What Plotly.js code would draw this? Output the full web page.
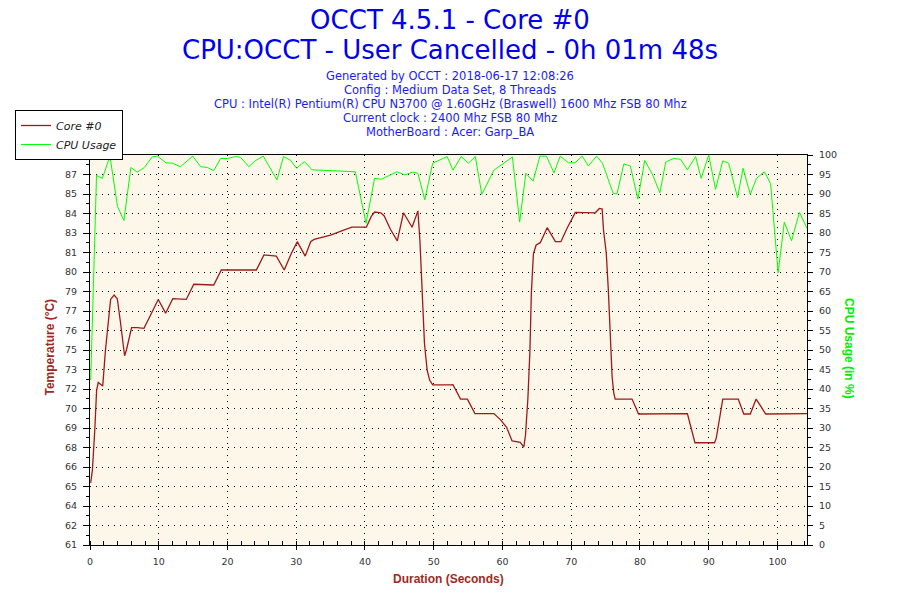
<!DOCTYPE html>
<html>
<head>
<meta charset="utf-8">
<script src="https://cdn.plot.ly/plotly-3.0.1.min.js"></script>
<style>html,body{margin:0;padding:0;background:#fff;}#chart{width:900px;height:600px;}</style>
</head>
<body>
<div id="chart"></div>
<script>
// ---- data ----
const titleLines = ["OCCT 4.5.1 - Core #0", "CPU:OCCT - User Cancelled - 0h 01m 48s"];
const infoLines = [
  "Generated by OCCT : 2018-06-17 12:08:26",
  "Config : Medium Data Set, 8 Threads",
  "CPU : Intel(R) Pentium(R) CPU N3700 @ 1.60GHz (Braswell) 1600 Mhz FSB 80 Mhz",
  "Current clock : 2400 Mhz FSB 80 Mhz",
  "MotherBoard : Acer: Garp_BA"
];
const seriesNames = ["Core #0", "CPU Usage"];

const tempTime = [0.1, 0.35, 0.7, 0.96, 1.2, 1.85, 2.25, 3.0, 3.5, 3.97,
  4.45, 5.03, 5.3, 6.05, 6.9, 7.85, 8.8, 9.93, 11.0, 12.05,
  14.0, 15.1, 18.0, 19.1, 24.2, 25.3, 27.1, 28.25, 29.3, 30.15,
  31.3, 32.1, 32.6, 35.0, 36.9, 38.1, 40.2, 40.9, 41.4, 42.3,
  42.8, 43.7, 44.7, 45.6, 46.85, 47.7, 48.0, 48.2, 48.4, 48.65,
  48.85, 49.05, 49.4, 49.85, 52.5, 52.8, 53.9, 54.9, 56.0, 58.75,
  59.7, 60.6, 61.4, 62.6, 63.1, 63.35, 63.7, 64.0, 64.2, 64.5,
  64.9, 65.5, 66.5, 67.7, 68.5, 69.4, 70.6, 73.5, 74.1, 74.5,
  74.7, 75.1, 75.4, 75.7, 75.95, 76.2, 76.4, 78.85, 79.8, 86.9,
  88.0, 90.85, 91.1, 92.05, 94.3, 95.1, 96.05, 96.9, 98.3, 104.3];
const tempCore0 = [65.3, 66.2, 69.0, 71.7, 72.25, 72.0, 74.5, 78.0, 78.3, 78.05,
  76.35, 74.1, 74.5, 76.05, 76.05, 76.0, 76.9, 78.0, 77.05, 78.05,
  78.0, 79.05, 79.0, 80.04, 80.04, 81.08, 81.0, 80.04, 81.2, 82.0,
  81.0, 82.0, 82.16, 82.46, 82.8, 83.0, 83.0, 83.73, 84.05, 84.0,
  83.78, 82.86, 82.05, 84.0, 83.0, 84.13, 82.0, 80.04, 77.04, 75.0,
  74.0, 73.1, 72.42, 72.08, 72.08, 72.1, 71.1, 71.1, 70.1, 70.1,
  69.68, 69.15, 68.2, 68.1, 67.78, 68.6, 71.16, 74.5, 78.42, 81.15,
  81.77, 81.93, 82.97, 82.0, 82.0, 82.93, 84.03, 84.0, 84.3, 84.26,
  82.8, 81.2, 78.65, 74.96, 72.65, 71.5, 71.1, 71.1, 70.07, 70.1,
  68.08, 68.08, 68.4, 71.1, 71.1, 70.07, 70.07, 71.1, 70.07, 70.1];

const cpuTime = [0.1, 0.95, 1.8, 2.9, 4.0, 4.93, 5.95, 6.87, 7.9, 9.05,
  9.8, 11.05, 12.0, 13.15, 14.95, 16.1, 17.05, 18.0, 19.0, 20.0,
  21.2, 21.9, 23.1, 24.1, 25.2, 27.2, 28.15, 29.2, 30.05, 31.2,
  32.3, 35.5, 38.6, 40.15, 41.4, 42.4, 44.65, 45.8, 46.9, 47.7,
  48.7, 49.85, 51.95, 52.8, 54.0, 55.05, 56.05, 57.0, 58.75, 59.8,
  61.45, 62.5, 63.4, 64.45, 65.45, 66.4, 67.5, 68.4, 69.6, 70.55,
  71.6, 72.5, 73.7, 74.55, 76.1, 76.65, 77.65, 78.6, 79.7, 80.7,
  81.8, 82.9, 83.75, 84.9, 85.9, 86.9, 88.1, 88.9, 90.0, 91.0,
  92.05, 92.9, 94.2, 95.0, 96.05, 96.95, 98.1, 99.0, 100.1, 101.0,
  102.05, 103.2, 104.3];
const cpuUsage = [42.3, 94.8, 94.0, 99.7, 86.8, 83.2, 96.8, 95.6, 96.8, 99.5,
  99.7, 98.0, 97.9, 97.0, 99.7, 97.0, 96.8, 96.0, 99.1, 99.1,
  99.6, 99.4, 97.0, 98.6, 99.7, 93.6, 99.6, 98.6, 96.6, 98.3,
  96.2, 95.9, 95.7, 82.5, 94.0, 93.8, 95.7, 94.9, 95.6, 95.3,
  88.5, 97.9, 99.6, 96.1, 99.6, 97.9, 99.6, 89.9, 96.1, 97.4,
  99.5, 82.8, 95.3, 93.3, 99.7, 99.7, 95.4, 99.7, 98.0, 98.0,
  99.7, 97.2, 99.7, 97.9, 90.2, 90.0, 97.7, 97.2, 88.7, 98.6,
  95.1, 90.3, 98.2, 99.1, 98.9, 96.2, 99.6, 94.0, 100, 91.2,
  98.5, 97.9, 89.1, 96.6, 89.9, 94.0, 95.7, 92.7, 69.8, 82.8,
  78.0, 85.3, 81.2];

// left (temperature) tick labels, aligned with the 5 % steps of the right axis
const tempTickText = ["61","62","64","65","66","68","69","70","72","73","75",
  "76","77","79","80","81","83","84","85","87","88"];
const tempRange = [61, 88];
const cpuRange = [0, 100];
const timeRange = [0, 104.3];

// ---- build ----
const tStep = (tempRange[1] - tempRange[0]) / (tempTickText.length - 1);
const tempTickVals = tempTickText.map((_, i) => tempRange[0] + i * tStep);
const tempMinorVals = tempTickVals.slice(0, -1).map(v => v + tStep / 2);

const plotL = 90, plotR = 807, plotT = 155, plotB = 545;
const px = x => (x - plotL) / (plotR - plotL);
const py = y => (plotB - y) / (plotB - plotT);

const traces = [
  {x: tempTime, y: tempCore0, name: seriesNames[0], type: 'scatter', mode: 'lines',
   line: {color: '#9e1a1a', width: 1.3}, yaxis: 'y', hoverinfo: 'skip'},
  {x: cpuTime, y: cpuUsage, name: seriesNames[1], type: 'scatter', mode: 'lines',
   line: {color: '#00ff00', width: 1}, yaxis: 'y2', hoverinfo: 'skip'}
];

const dotted = '1px,5px';
const tickFont = {family: 'DejaVu Sans', size: 9.5, color: '#333333'};
const infoY = [76, 90, 104, 118, 132];

const annotations = [
  {text: titleLines[1], xref: 'paper', yref: 'paper', x: px(450), y: py(50),
   xanchor: 'center', yanchor: 'middle', showarrow: false,
   font: {family: 'DejaVu Sans', size: 26, color: '#0000ee'}},
  {text: '<b>Temperature (°C)</b>', xref: 'paper', yref: 'paper', x: px(49.5), y: py(347),
   xanchor: 'center', yanchor: 'middle', showarrow: false, textangle: -90,
   font: {family: 'Liberation Sans', size: 12, color: '#9e2a22'}},
  {text: '<b>CPU Usage (in %)</b>', xref: 'paper', yref: 'paper', x: px(849), y: py(348),
   xanchor: 'center', yanchor: 'middle', showarrow: false, textangle: 90,
   font: {family: 'Liberation Sans', size: 12, color: '#00ee00'}},
  {text: '<b>Duration (Seconds)</b>', xref: 'paper', yref: 'paper', x: px(448), y: py(579),
   xanchor: 'center', yanchor: 'middle', showarrow: false,
   font: {family: 'Liberation Sans', size: 12, color: '#9e2a22'}}
];
infoLines.forEach((t, i) => annotations.push({
  text: t, xref: 'paper', yref: 'paper', x: px(450), y: py(infoY[i]),
  xanchor: 'center', yanchor: 'middle', showarrow: false,
  font: {family: 'DejaVu Sans', size: 11.5, color: '#1a1aff'}}));

const layout = {
  width: 900, height: 600,
  paper_bgcolor: '#ffffff', plot_bgcolor: '#fdf7e9',
  margin: {l: plotL, r: 900 - plotR, t: plotT, b: 600 - plotB, pad: 0, autoexpand: false},
  font: {family: 'DejaVu Sans', size: 10, color: '#333333'},
  title: {text: titleLines[0], xref: 'container', x: 0.5, xanchor: 'center',
    yref: 'container', y: 1 - 20 / 600, yanchor: 'middle',
    font: {family: 'DejaVu Sans', size: 26, color: '#0000ee'}},
  showlegend: true,
  legend: {xref: 'container', yref: 'container', x: 15 / 900, y: 1 - 110 / 600,
    xanchor: 'left', yanchor: 'top', bgcolor: '#ffffff', bordercolor: '#000000', borderwidth: 1,
    font: {family: 'DejaVu Sans', size: 11, color: '#222222', style: 'italic'},
    itemwidth: 30, tracegroupgap: 0},
  xaxis: {range: timeRange, tick0: 0, dtick: 10, ticks: 'outside', ticklen: 4, tickcolor: '#000',
    showline: true, linecolor: '#000', linewidth: 1, mirror: true, automargin: false,
    showgrid: true, gridcolor: '#000', griddash: dotted, gridwidth: 1, zeroline: false,
    tickfont: tickFont, ticklabelstandoff: 4,
    minor: {dtick: 2, ticks: 'inside', ticklen: 4, tickcolor: '#000', showgrid: false}},
  yaxis: {range: tempRange, tickmode: 'array', tickvals: tempTickVals, ticktext: tempTickText,
    ticks: 'outside', ticklen: 6, tickcolor: '#000', showline: true, linecolor: '#000', automargin: false,
    showgrid: false, zeroline: false, tickfont: tickFont, ticklabelstandoff: 4,
    minor: {tickmode: 'array', tickvals: tempMinorVals, ticks: 'outside', ticklen: 3, tickcolor: '#000', showgrid: false}},
  yaxis2: {range: cpuRange, overlaying: 'y', side: 'right', tick0: 0, dtick: 5,
    ticks: 'outside', ticklen: 5, tickcolor: '#000', showline: true, linecolor: '#000', automargin: false,
    showgrid: true, gridcolor: '#000', griddash: dotted, gridwidth: 1, zeroline: false,
    tickfont: tickFont, ticklabelstandoff: 4,
    minor: {dtick: 2.5, ticks: 'outside', ticklen: 3, tickcolor: '#000', showgrid: false}},
  annotations: annotations
};

Plotly.newPlot('chart', traces, layout, {displayModeBar: false, staticPlot: true});
</script>
</body>
</html>
